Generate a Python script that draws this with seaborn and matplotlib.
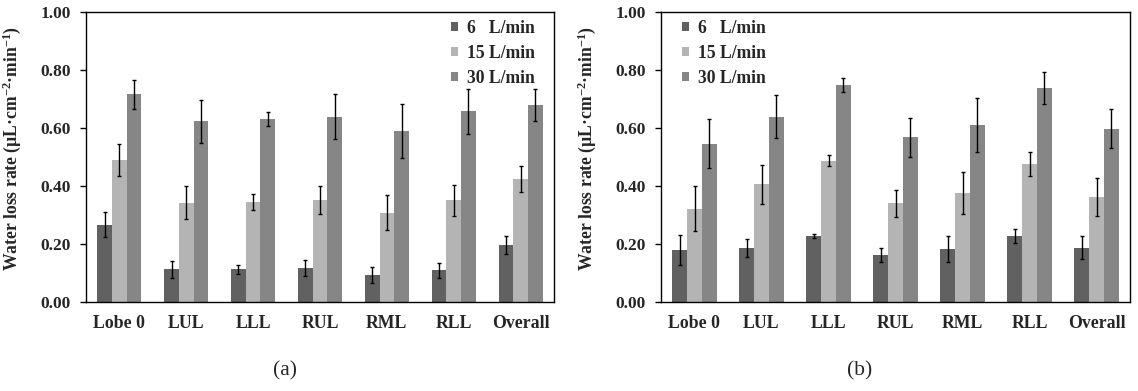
import numpy as np
import pandas as pd
import matplotlib
matplotlib.use("Agg")
import matplotlib.pyplot as plt
import seaborn as sns

# ---------------- data ----------------
lobes = ["Lobe 0", "LUL", "LLL", "RUL", "RML", "RLL", "Overall"]
flows = ["6   L/min", "15 L/min", "30 L/min"]

# panel (a)
a_6 = [0.267, 0.113, 0.113, 0.117, 0.092, 0.110, 0.197]
a_15 = [0.491, 0.343, 0.346, 0.351, 0.308, 0.351, 0.425]
a_30 = [0.717, 0.624, 0.632, 0.639, 0.589, 0.657, 0.679]
a_6_err = [0.044, 0.030, 0.016, 0.027, 0.028, 0.026, 0.032]
a_15_err = [0.055, 0.057, 0.028, 0.048, 0.061, 0.054, 0.045]
a_30_err = [0.050, 0.074, 0.024, 0.077, 0.093, 0.076, 0.054]

# panel (b)
b_6 = [0.180, 0.186, 0.228, 0.162, 0.182, 0.229, 0.187]
b_15 = [0.322, 0.406, 0.487, 0.340, 0.376, 0.476, 0.362]
b_30 = [0.546, 0.639, 0.749, 0.568, 0.610, 0.738, 0.597]
b_6_err = [0.051, 0.031, 0.008, 0.023, 0.044, 0.024, 0.039]
b_15_err = [0.077, 0.068, 0.019, 0.046, 0.072, 0.041, 0.064]
b_30_err = [0.084, 0.075, 0.024, 0.067, 0.092, 0.056, 0.067]

yticks = [0.0, 0.2, 0.4, 0.6, 0.8, 1.0]
colors = ["#616161", "#b4b4b4", "#868686"]

# ---------------- style ----------------
sns.set_style("white")
plt.rcParams["font.family"] = ["Liberation Serif", "DejaVu Serif"]
plt.rcParams["font.weight"] = "bold"
plt.rcParams["mathtext.fontset"] = "custom"
plt.rcParams["mathtext.rm"] = "Liberation Serif:bold"
plt.rcParams["mathtext.bf"] = "Liberation Serif:bold"
plt.rcParams["mathtext.it"] = "Liberation Serif:bold"

W, H = 1138, 391
fig = plt.figure(figsize=(W / 100, H / 100), dpi=100)

def px_axes(x0, x1, y0, y1):
    return fig.add_axes([x0 / W, 1 - y1 / H, (x1 - x0) / W, (y1 - y0) / H])

ax_a = px_axes(86, 554, 12, 302)
ax_b = px_axes(661, 1130, 12, 302)

def draw(ax, vals, errs, legend_x, caption, cap_x, label_x):
    df = pd.DataFrame({
        "lobe": np.repeat([lobes], 3, axis=0).ravel(),
        "flow": np.repeat(flows, len(lobes)),
        "rate": np.concatenate(vals),
    })
    sns.barplot(data=df, x="lobe", y="rate", hue="flow", order=lobes,
                hue_order=flows, palette=colors, width=0.66, gap=0,
                errorbar=None, saturation=1, linewidth=0, ax=ax)
    for cont, v, e in zip(ax.containers, vals, errs):
        xs = [p.get_x() + p.get_width() / 2 for p in cont.patches]
        ax.errorbar(xs, v, yerr=e, fmt="none", ecolor="black",
                    elinewidth=1.0, capsize=1.6, capthick=1.0, zorder=5)
    ax.set_xlim(-0.5, len(lobes) - 0.5)
    ax.set_ylim(0, 1.0)
    ax.set_yticks(yticks)
    ax.set_yticklabels([f"{t:.2f}" for t in yticks])
    ax.set_xlabel("")
    ax.set_ylabel("Water loss rate (µL·cm$^{-2}$·min$^{-1}$)",
                  fontsize=12.7, fontweight="bold")
    ax.yaxis.set_label_coords(label_x, 0.528)
    ax.tick_params(axis="y", which="both", left=True, length=4, width=1,
                   direction="out", pad=7, labelsize=12.5, color="black")
    ax.tick_params(axis="x", length=0, pad=9, labelsize=12.8)
    for lab in ax.get_xticklabels() + ax.get_yticklabels():
        lab.set_fontweight("bold")
    for s in ax.spines.values():
        s.set_visible(True)
        s.set_color("black")
        s.set_linewidth(1.0)
    leg = ax.legend(loc="upper left", bbox_to_anchor=(legend_x, 0.973),
                    frameon=False, fontsize=12.7, handlelength=0.4,
                    handleheight=0.4, handletextpad=0.5, labelspacing=0.45,
                    borderpad=0, borderaxespad=0)
    for t in leg.get_texts():
        t.set_fontweight("bold")
    fig.text(cap_x / W, 1 - 371 / H, caption, ha="center", va="center",
             fontsize=15.5, fontweight="normal")

draw(ax_a, [a_6, a_15, a_30], [a_6_err, a_15_err, a_30_err], 0.78, "(a)", 285, -0.134)
draw(ax_b, [b_6, b_15, b_30], [b_6_err, b_15_err, b_30_err], 0.045, "(b)", 860, -0.134)

fig.savefig("out.png", dpi=100)
